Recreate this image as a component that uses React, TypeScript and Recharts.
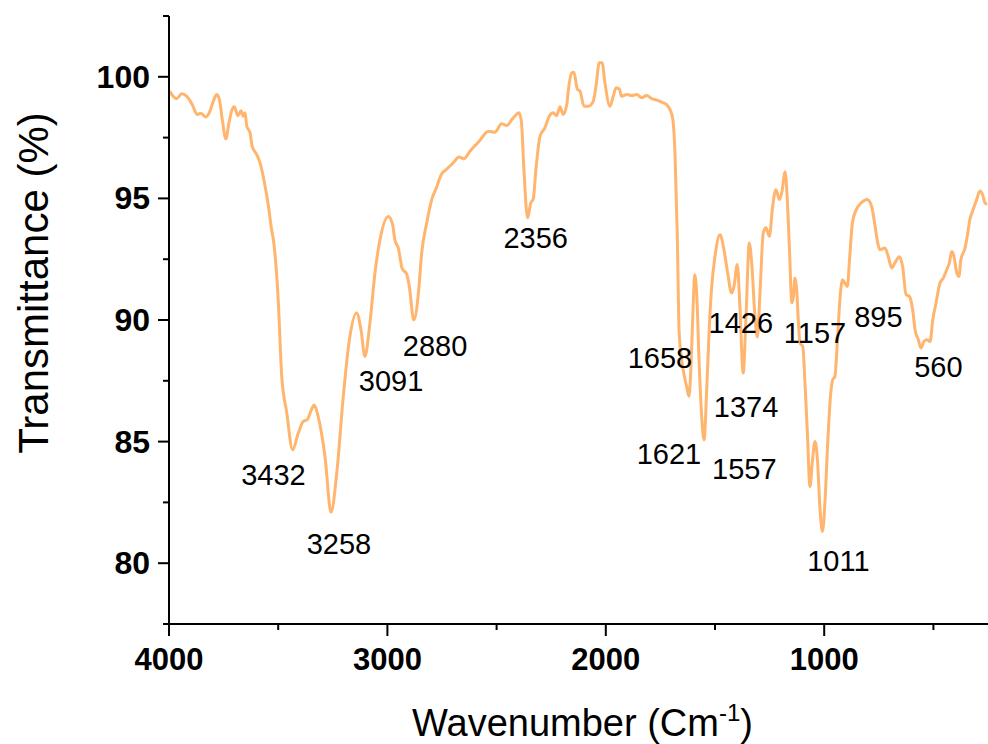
import React from "react";
import {
  LineChart,
  Line,
  XAxis,
  YAxis,
  ReferenceDot,
  Label,
} from "recharts";

// wavenumber (cm-1), read left to right off the reference
const wavenumbers = [
  3997, 3965, 3942, 3919, 3896, 3870, 3855, 3832, 3812, 3797, 3782, 3770,
  3756, 3740, 3725, 3713, 3701, 3685, 3670, 3660, 3652, 3644, 3629, 3619,
  3598, 3583, 3563, 3545, 3530, 3522, 3500, 3484, 3461, 3434, 3408, 3385,
  3367, 3351, 3335, 3317, 3286, 3258, 3232, 3202, 3174, 3141, 3121, 3103,
  3080, 3057, 3034, 2996, 2976, 2966, 2950, 2932, 2912, 2900, 2879, 2858,
  2843, 2820, 2797, 2776, 2753, 2730, 2699, 2672, 2650, 2622, 2599, 2577,
  2538, 2508, 2477, 2454, 2424, 2397, 2386, 2375, 2358, 2344, 2332, 2320,
  2301, 2279, 2259, 2241, 2225, 2210, 2195, 2178, 2172, 2156, 2146, 2130,
  2118, 2100, 2080, 2057, 2045, 2030, 2017, 2004, 1981, 1966, 1953, 1938,
  1928, 1904, 1881, 1858, 1836, 1813, 1790, 1767, 1745, 1722, 1706, 1694,
  1683, 1673, 1664, 1648, 1630, 1619, 1610, 1599, 1593, 1584, 1572, 1561,
  1550, 1538, 1526, 1515, 1500, 1477, 1459, 1442, 1424, 1413, 1398, 1386,
  1371, 1358, 1343, 1332, 1317, 1306, 1294, 1279, 1267, 1251, 1236, 1221,
  1205, 1193, 1179, 1169, 1159, 1148, 1141, 1134, 1126, 1118, 1111, 1098,
  1088, 1077, 1065, 1055, 1042, 1031, 1019, 1008, 996, 984, 970, 961, 951,
  940, 928, 916, 906, 894, 883, 871, 853, 830, 803, 783, 767, 755, 745, 722,
  707, 691, 676, 656, 641, 625, 610, 595, 584, 569, 557, 543, 530, 515, 503,
  488, 470, 454, 439, 427, 416, 406, 393, 383, 374, 355, 345, 333, 318, 302,
  287, 275, 264, 254,
];

// transmittance (%)
const transmittance = [
  99.4, 99.1, 99.3, 99.2, 98.9, 98.45, 98.5, 98.35, 98.6, 99.0, 99.27, 99.1,
  98.24, 97.45, 98.13, 98.6, 98.77, 98.4, 98.6, 98.38, 98.52, 97.97, 97.7,
  97.14, 96.8, 96.46, 95.64, 94.7, 93.7, 93.3, 90.84, 87.7, 86.2, 84.66,
  85.35, 85.83, 85.9, 86.24, 86.5, 86.03, 84.4, 82.1, 83.7, 86.86, 89.19,
  90.29, 89.6, 88.5, 89.88, 91.93, 93.3, 94.26, 93.92, 93.3, 92.96, 92.1,
  91.9, 91.4, 90.0, 91.1, 92.76, 93.99, 94.95, 95.43, 95.98, 96.19, 96.46,
  96.7, 96.63, 96.94, 97.17, 97.38, 97.76, 97.72, 98.07, 98.0, 98.31, 98.52,
  98.1, 96.19, 94.2, 94.8, 94.98, 96.19, 97.56, 97.9, 98.38, 98.52, 98.4,
  98.77, 98.45, 98.9, 99.41, 100.16, 100.19, 99.48, 99.41, 98.79, 98.79,
  99.0, 99.61, 100.58, 100.58, 99.75, 98.79, 99.2, 99.55, 99.5, 99.2, 99.27,
  99.23, 99.27, 99.14, 99.23, 99.1, 99.04, 98.96, 98.86, 98.65, 98.3, 96.8,
  93.58, 89.47, 88.09, 87.27, 86.86, 88.09, 90.84, 91.86, 91.11, 88.09,
  86.03, 85.07, 87.13, 89.74, 91.38, 92.62, 93.51, 92.89, 91.93, 91.11,
  91.38, 92.28, 90.56, 87.82, 90.15, 93.17, 92.35, 90.15, 89.3, 91.11,
  93.58, 93.79, 93.44, 94.68, 95.36, 94.95, 95.3, 96.1, 94.95, 92.89, 90.7,
  90.97, 91.73, 91.25, 89.88, 89.06, 88.91, 87.41, 85.35, 83.15, 84.1, 85.0,
  84.25, 82.2, 81.3, 82.6, 84.94, 87.0, 87.54, 87.68, 89.06, 90.84, 91.66,
  91.52, 91.38, 92.62, 93.99, 94.54, 94.82, 94.95, 94.68, 93.85, 93.17,
  92.89, 92.96, 92.62, 92.14, 92.35, 92.6, 92.2, 91.04, 90.97, 90.42, 89.6,
  89.19, 88.85, 89.12, 89.19, 89.12, 90.0, 90.7, 91.52, 91.73, 92.07, 92.35,
  92.82, 92.62, 91.93, 91.79, 92.48, 92.96, 93.44, 94.13, 94.54, 94.95,
  95.3, 95.16, 94.82, 94.75,
];

// peak annotations: text and where its centre sits (data units)
const peakText = [
  "3432", "3258", "3091", "2880", "2356", "1658", "1621", "1426", "1374",
  "1557", "1157", "895", "560", "1011",
];
const peakTextW = [
  3522, 3222, 2983, 2782, 2321, 1752, 1711, 1382, 1358, 1366, 1042, 752, 477,
  935,
];
const peakTextT = [
  83.63, 80.82, 87.51, 88.96, 93.37, 88.46, 84.5, 89.9, 86.42, 83.88, 89.49,
  90.15, 88.09, 80.1,
];

const xTicks = [4000, 3500, 3000, 2500, 2000, 1500, 1000, 500];
const yTicks = [77.5, 80, 82.5, 85, 87.5, 90, 92.5, 95, 97.5, 100, 102.5];

const data = wavenumbers.map((w, i) => ({ w, t: transmittance[i] }));

const FONT = '"Liberation Sans", Arial, sans-serif';

function XTick(props: any) {
  const { x, y, payload } = props;
  const major = payload.value % 1000 === 0;
  return (
    <g>
      <line x1={x} x2={x} y1={y} y2={y + (major ? 12 : 6)} stroke="#000" strokeWidth={2} />
      {major && (
        <text x={x} y={y + 46} textAnchor="middle" fontSize={31} fontWeight="bold" fontFamily={FONT} fill="#000">
          {payload.value}
        </text>
      )}
    </g>
  );
}

function YTick(props: any) {
  const { x, y, payload } = props;
  const major = payload.value % 5 === 0;
  return (
    <g>
      <line x1={x - (major ? 11 : 6)} x2={x} y1={y} y2={y} stroke="#000" strokeWidth={2} />
      {major && (
        <text x={x - 19} y={y + 11} textAnchor="end" fontSize={32} fontWeight="bold" fontFamily={FONT} fill="#000">
          {payload.value}
        </text>
      )}
    </g>
  );
}

function XTitle(props: any) {
  const { viewBox } = props;
  const cx = viewBox.x + viewBox.width / 2;
  return (
    <text x={cx + 4} y={viewBox.y + 112} textAnchor="middle" fontSize={38} fontFamily={FONT} fill="#000">
      Wavenumber (Cm
      <tspan dy={-15} fontSize={24}>-1</tspan>
      <tspan dy={15}>)</tspan>
    </text>
  );
}

function YTitle() {
  return (
    <text
      x={0}
      y={0}
      transform="translate(48, 283) rotate(-90)"
      textAnchor="middle"
      fontSize={42}
      fontFamily={FONT}
      fill="#000"
    >
      Transmittance (%)
    </text>
  );
}

export default function App() {
  return (
    <div style={{ position: "absolute", left: 0, top: 0, width: 988, height: 744, background: "#fff" }}>
      <LineChart
        width={988}
        height={744}
        data={data}
        margin={{ top: 16, right: 0, bottom: 40, left: 69 }}
      >
        <XAxis
          dataKey="w"
          type="number"
          domain={[250, 4000]}
          reversed
          allowDataOverflow
          ticks={xTicks}
          interval={0}
          tickSize={0}
          tickMargin={0}
          tick={<XTick />}
          height={80}
          axisLine={{ stroke: "#000", strokeWidth: 2 }}
        >
          <Label content={<XTitle />} />
        </XAxis>
        <YAxis
          type="number"
          domain={[77.5, 102.5]}
          allowDataOverflow
          ticks={yTicks}
          interval={0}
          tickSize={0}
          tickMargin={0}
          tick={<YTick />}
          width={100}
          axisLine={{ stroke: "#000", strokeWidth: 2 }}
        >
          <Label content={<YTitle />} />
        </YAxis>
        <Line
          dataKey="t"
          type="monotone"
          stroke="#FFB56E"
          strokeWidth={3}
          dot={false}
          isAnimationActive={false}
        />
        {peakText.map((s, i) => (
          <ReferenceDot
            key={s}
            x={peakTextW[i]}
            y={peakTextT[i]}
            r={0}
            fill="none"
            stroke="none"
            label={{ value: s, position: "center", fontSize: 29, fill: "#000", fontFamily: FONT }}
          />
        ))}
      </LineChart>
    </div>
  );
}
